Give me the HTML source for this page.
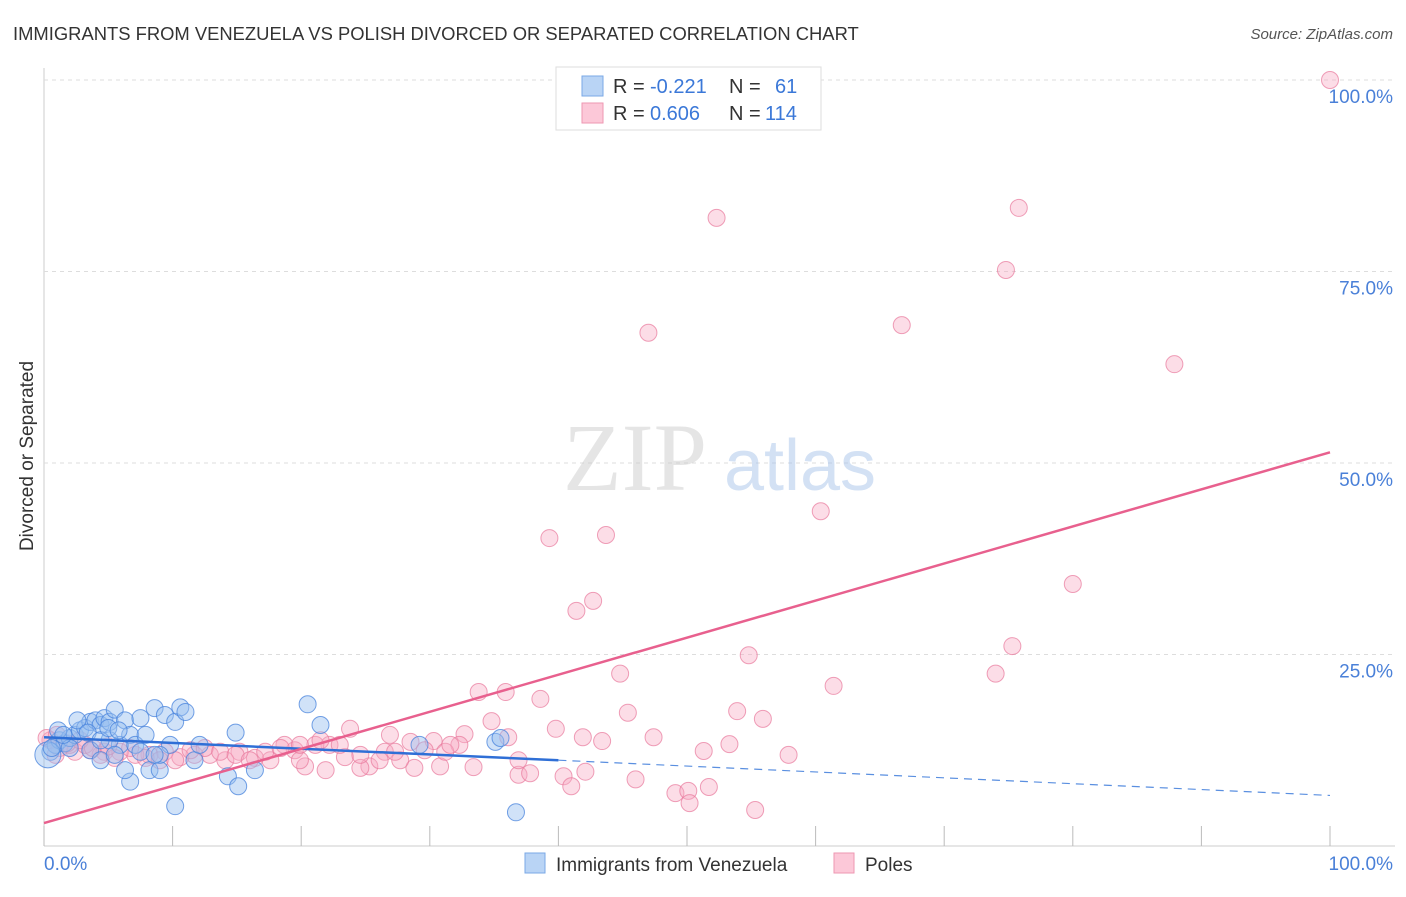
<!DOCTYPE html>
<html><head><meta charset="utf-8"><style>
body{margin:0;background:#fff;font-family:"Liberation Sans",sans-serif;}
svg text{font-family:"Liberation Sans",sans-serif;}
</style></head><body>
<svg id="chart" width="1406" height="892" xmlns="http://www.w3.org/2000/svg">
<text x="13" y="40" font-size="18.4" fill="#333">IMMIGRANTS FROM VENEZUELA VS POLISH DIVORCED OR SEPARATED CORRELATION CHART</text>
<text x="1393" y="39" font-size="15" fill="#555" text-anchor="end" font-style="italic">Source: ZipAtlas.com</text>
<text transform="translate(33,456) rotate(-90)" font-size="19" fill="#333" text-anchor="middle">Divorced or Separated</text>
<g id="grid"></g>
<g id="watermark" opacity="0.5">
<text x="635" y="490" font-size="96" fill="#ccc" text-anchor="middle" style="font-family:'Liberation Serif',serif">ZIP</text>
<text x="800" y="490" font-size="72" fill="#a8c4ea" text-anchor="middle">atlas</text>
</g>
<g id="marks"></g>
<g id="legend-box">
<rect x="556" y="67" width="265" height="63" fill="#fff" stroke="#ddd"/>
<rect x="582" y="76" width="21" height="20" fill="#b9d4f5" stroke="#7aa8e6"/>
<rect x="582" y="103" width="21" height="20" fill="#fcc8d8" stroke="#ee97b2"/>
<text x="613" y="93" font-size="20" fill="#333">R = </text><text x="650" y="93" font-size="20" fill="#3b78d8">-0.221</text>
<text x="729" y="93" font-size="20" fill="#333">N = </text><text x="775" y="93" font-size="20" fill="#3b78d8">61</text>
<text x="613" y="120" font-size="20" fill="#333">R = </text><text x="650" y="120" font-size="20" fill="#3b78d8">0.606</text>
<text x="729" y="120" font-size="20" fill="#333">N = </text><text x="765" y="120" font-size="20" fill="#3b78d8">114</text>
</g>
<g>
<rect x="525" y="853" width="20" height="20" fill="#b9d4f5" stroke="#7aa8e6"/>
<text x="556" y="871" font-size="19" fill="#333">Immigrants from Venezuela</text>
<rect x="834" y="853" width="20" height="20" fill="#fcc8d8" stroke="#ee97b2"/>
<text x="865" y="871" font-size="19" fill="#333">Poles</text>
</g>
</svg>
<script>
const xTicks=[0,10,20,30,40,50,60,70,80,90,100];
const yTicks=[25,50,75,100];
const yTickLabels=["25.0%","50.0%","75.0%","100.0%"];
const xEndLabels=["0.0%","100.0%"];
const blueX=[0.5,0.9,1.2,1.6,2.0,2.4,2.8,3.2,3.6,4.0,4.4,4.7,5.1,5.5,5.9,6.3,6.7,7.1,7.5,7.9,8.2,8.6,9.0,9.4,9.8,10.2,10.6,11.0,6.7,6.3,10.2,11.7,14.9,14.3,15.1,16.4,20.5,21.5,29.2,35.1,35.5,36.7,9.0,12.1,5.1,3.6,2.0,1.1,1.5,2.6,3.4,4.4,5.0,5.8,7.5,8.6,4.4,5.5,0.3,0.6];
const blueY=[12.3,13.2,13.8,13.4,14.1,14.5,15.1,15.4,16.2,16.4,15.8,16.7,16.2,17.8,13.2,16.4,14.5,13.2,16.7,14.5,9.9,18.0,9.9,17.1,13.2,16.2,18.1,17.5,8.4,9.9,5.2,11.2,14.8,9.1,7.8,9.9,18.5,15.8,13.2,13.6,14.1,4.4,11.9,13.2,13.8,12.5,12.8,15.1,14.5,16.4,14.8,13.8,15.4,15.1,12.3,11.9,11.2,11.9,11.9,12.8];
const pinkX=[100,52.3,75.8,74.8,47.0,66.7,87.9,60.4,39.3,43.7,80.0,42.7,41.4,75.3,54.8,74.0,44.8,61.4,33.8,35.9,38.6,45.4,53.9,55.9,39.8,41.9,43.4,47.4,51.3,53.3,57.9,34.8,36.1,32.7,23.8,26.9,30.3,32.3,33.4,36.9,37.8,40.4,41.0,42.1,46.0,49.1,50.1,50.2,51.7,55.3,36.9,30.8,28.8,27.7,26.5,25.3,24.6,23.4,22.2,21.9,20.3,19.5,18.7,17.6,16.4,15.2,14.1,12.9,11.7,10.6,9.4,8.2,7.1,5.9,4.7,3.6,2.4,1.2,0.5,0.9,2.0,3.2,4.4,5.5,6.7,7.9,9.0,10.2,11.4,12.5,13.7,14.9,16.0,17.2,18.4,19.9,21.1,23.0,24.6,26.1,27.3,28.5,29.6,31.2,31.6,19.9,21.5,0.2,1.0,1.8,2.8,3.8,5.0];
const pinkY=[100,82.0,83.3,75.2,67.0,68.0,62.9,43.7,40.2,40.6,34.2,32.0,30.7,26.1,24.9,22.5,22.5,20.9,20.1,20.1,19.2,17.4,17.6,16.6,15.3,14.2,13.7,14.2,12.4,13.3,11.9,16.3,14.2,14.6,15.3,14.5,13.7,13.2,10.3,9.3,9.5,9.1,7.8,9.7,8.7,6.9,7.2,5.6,7.7,4.7,11.2,10.4,10.2,11.2,12.3,10.4,10.2,11.6,13.2,9.9,10.4,12.5,13.2,11.2,11.5,12.3,11.2,11.9,11.9,11.6,12.3,11.9,11.9,12.3,12.3,12.5,12.3,12.8,13.8,11.9,13.2,13.2,11.9,11.5,12.8,11.5,11.2,11.2,12.5,12.8,12.3,11.9,11.2,12.3,12.8,11.2,13.2,13.2,11.9,11.2,12.3,13.6,12.5,12.3,13.2,13.2,13.8,14.1,14.5,13.4,13.8,12.8,13.0];
const blueTrend=[[0,14.2],[40,11.2],[100,6.6]];
const pinkTrend=[[0,3.0],[100,51.4]];
const NS="http://www.w3.org/2000/svg";
const X0=44,X1=1330,Y0=846,Y1=80;
function sx(v){return X0+(X1-X0)*v/100;}
function sy(v){return Y0-(Y0-Y1)*v/100;}
function mk(tag,attrs,parent){const e=document.createElementNS(NS,tag);for(const k in attrs)e.setAttribute(k,attrs[k]);parent.appendChild(e);return e;}
const svg=document.getElementById('chart');
const grid=document.getElementById('grid');
const marks=document.getElementById('marks');
let ax=mk('line',{x1:X0,y1:68,x2:X0,y2:Y0,stroke:'#ccc'},grid);


let bx=mk('line',{x1:X0,y1:Y0,x2:1395,y2:Y0,stroke:'#ccc'},grid);


yTicks.forEach((t,i)=>{
  let g=mk('line',{x1:X0,y1:sy(t),x2:1395,y2:sy(t),stroke:'#ddd','stroke-dasharray':'4,4'},grid);
  
  
  let tx=mk('text',{x:1393,y:sy(t)+23,'font-size':19,fill:'#4a80d8','text-anchor':'end'},svg);
  tx.textContent=yTickLabels[i];
  
  
});
xTicks.forEach(t=>{
  let l=mk('line',{x1:sx(t),y1:826,x2:sx(t),y2:Y0,stroke:'#bbb'},grid);
  
  
});
let xl0=mk('text',{x:44,y:870,'font-size':19,fill:'#4a80d8'},svg);xl0.textContent=xEndLabels[0];


let xl1=mk('text',{x:1393,y:870,'font-size':19,fill:'#4a80d8','text-anchor':'end'},svg);xl1.textContent=xEndLabels[1];


pinkX.forEach((v,i)=>{
  let c=mk('circle',{cx:sx(v),cy:sy(pinkY[i]),r:8.5,fill:'rgba(248,170,195,0.4)',stroke:'rgba(232,120,155,0.7)','stroke-width':1},marks);
  
  
});
blueX.forEach((v,i)=>{
  let c=mk('circle',{cx:sx(v),cy:sy(blueY[i]),r:i===58?13:8.5,fill:'rgba(150,190,240,0.45)',stroke:'rgba(70,130,220,0.75)','stroke-width':1},marks);
  
  
});
let bt=mk('line',{x1:sx(blueTrend[0][0]),y1:sy(blueTrend[0][1]),x2:sx(blueTrend[1][0]),y2:sy(blueTrend[1][1]),stroke:'#2f6fd6','stroke-width':2.5},marks);


let bd=mk('line',{x1:sx(blueTrend[1][0]),y1:sy(blueTrend[1][1]),x2:sx(blueTrend[2][0]),y2:sy(blueTrend[2][1]),stroke:'#5a8fe0','stroke-width':1.2,'stroke-dasharray':'8,6'},marks);


let pt=mk('line',{x1:sx(pinkTrend[0][0]),y1:sy(pinkTrend[0][1]),x2:sx(pinkTrend[1][0]),y2:sy(pinkTrend[1][1]),stroke:'#e8608e','stroke-width':2.5},marks);


</script>
</body></html>
